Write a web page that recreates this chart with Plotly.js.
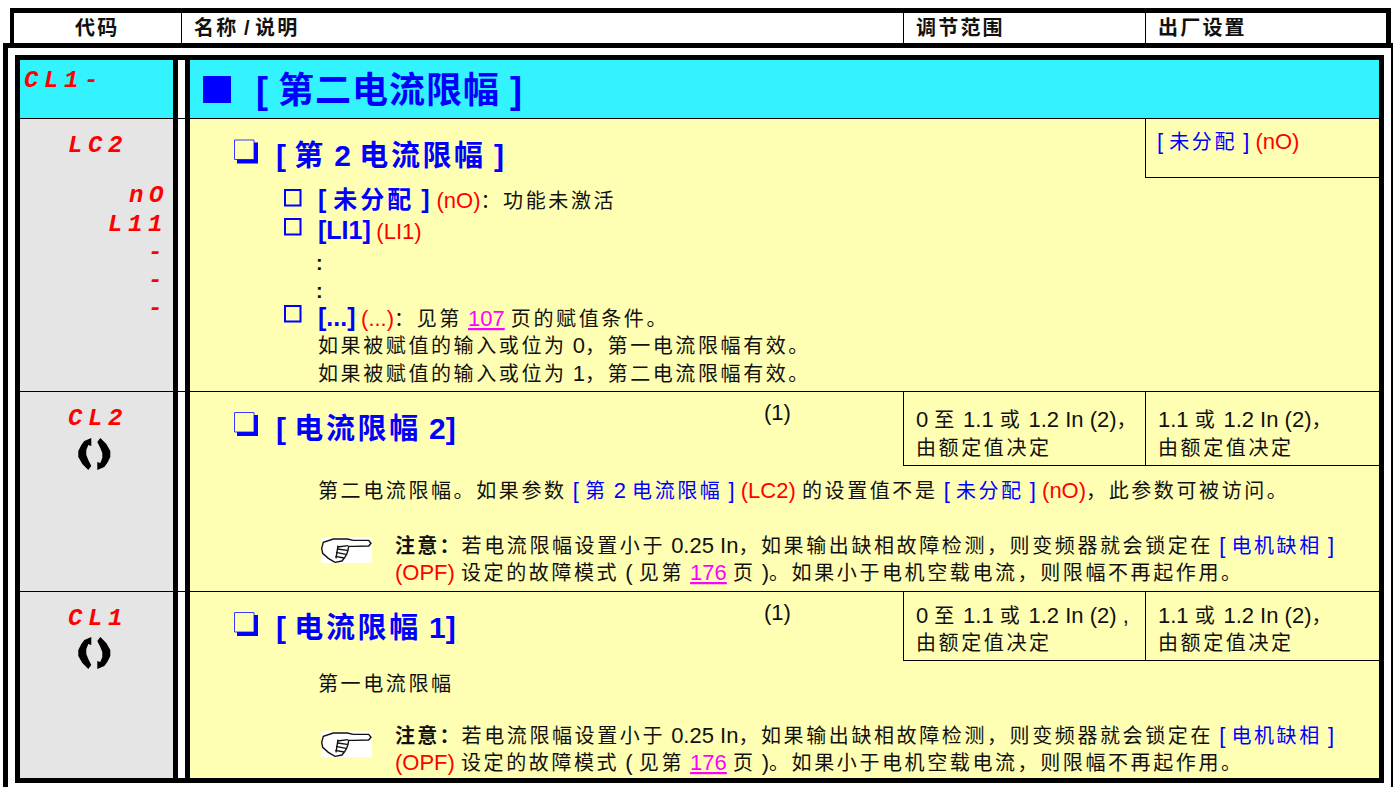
<!DOCTYPE html>
<html><head><meta charset="utf-8">
<script src="https://cdn.plot.ly/plotly-3.0.1.min.js"></script>
<style>html,body{margin:0;padding:0;background:#fff;overflow:hidden}#c{width:1393px;height:787px}</style>
</head><body><div id="c"></div>
<script>
const BLUE='#0000ff',RED='#ff0000',BLACK='#111111',MAG='#ff00ff';
const CYAN='#33f3ff',YEL='#ffffb3',GRAY='#e5e5e5';
const headerLabels=['代码','名称 / 说明','调节范围','出厂设置'];
const headerX=[75,194,916,1158];
const codeLabels=['CL1-','LC2','nO','L11','-','-','-','CL2','CL1'];
const codeX=[24,68,129,108,148,148,148,68,68];
const codeY=[80,145,195,224,252,280,308,418,618];
const rowLines=[118,391,591];
const handY=[0,194];
const arrowY=[454,653];

function s(t,c,z,b,ls,extra){
  return '<span style="fill:'+c+';font-size:'+z+'px;'+(b?'font-weight:bold;':'')+'letter-spacing:'+(ls||0)+'px;'+(extra||'')+'">'+t+'</span>';
}
// CJK runs get wider tracking, Latin runs use the Latin size with none
function mix(t,c,z,b,ls,lz){
  return t.split(/([\u3000-\u303f\u4e00-\u9fff\uff00-\uffef]+)/).filter(p=>p.length).map(p=>
    /^[\u3000-\u303f\u4e00-\u9fff\uff00-\uffef]/.test(p)?s(p,c,z,b,ls):s(p,c,lz,b,0)).join('');
}
const bk=(t)=>mix(t,BLACK,20,false,2.6,22);
const bl=(t)=>mix(t,BLUE,20,false,2.6,22);
const rd=(t)=>s(t,RED,22,false,0);
const lnk=(t)=>s(t,MAG,22,false,0,'text-decoration:underline;');
const bb=(t)=>mix(t,BLUE,24,true,3,25);
const big=(t)=>mix(t,BLUE,29,true,2.6,30);
const bh=(t)=>mix(t,BLACK,20,true,2.2,20);

const textLines=[
 [256,90, mix('[ 第二电流限幅 ]',BLUE,36,true,1,36)],
 [276,155,big('[ 第 2 电流限幅 ]')],
 [318,199,bb('[ 未分配 ] ')+rd('(nO)')+bk('：功能未激活')],
 [318,230,bb('[LI1]')+' '+rd('(LI1)')],
 [316,263,s(':',BLACK,20,true,0)],
 [316,291,s(':',BLACK,20,true,0)],
 [318,317,bb('[...]')+' '+rd('(...)')+bk('：见第 ')+lnk('107')+bk(' 页的赋值条件。')],
 [318,345,bk('如果被赋值的输入或位为 0，第一电流限幅有效。')],
 [318,373,bk('如果被赋值的输入或位为 1，第二电流限幅有效。')],
 [1157,141,bl('[ 未分配 ] ')+rd('(nO)')],
 [276,428,big('[ 电流限幅 2]')],
 [764,412,s('(1)',BLACK,22,false,0)],
 [916,419,bk('0 至 1.1 或 1.2 In (2)，')],
 [916,448,bk('由额定值决定')],
 [1158,419,bk('1.1 或 1.2 In (2)，')],
 [1158,448,bk('由额定值决定')],
 [318,490,bk('第二电流限幅。如果参数 ')+bl('[ 第 2 电流限幅 ] ')+rd('(LC2)')+bk(' 的设置值不是 ')+bl('[ 未分配 ] ')+rd('(nO)')+bk('，此参数可被访问。')],
 [395,545,bh('注意：')+bk('若电流限幅设置小于 0.25 In，如果输出缺相故障检测，则变频器就会锁定在 ')+bl('[ 电机缺相 ]')],
 [395,572,rd('(OPF)')+bk(' 设定的故障模式 ( 见第 ')+lnk('176')+bk(' 页 )。如果小于电机空载电流，则限幅不再起作用。')],
 [276,627,big('[ 电流限幅 1]')],
 [764,612,s('(1)',BLACK,22,false,0)],
 [916,615,bk('0 至 1.1 或 1.2 In (2) ,')],
 [916,643,bk('由额定值决定')],
 [1158,615,bk('1.1 或 1.2 In (2)，')],
 [1158,643,bk('由额定值决定')],
 [318,684,bk('第一电流限幅')],
 [395,735,bh('注意：')+bk('若电流限幅设置小于 0.25 In，如果输出缺相故障检测，则变频器就会锁定在 ')+bl('[ 电机缺相 ]')],
 [395,762,rd('(OPF)')+bk(' 设定的故障模式 ( 见第 ')+lnk('176')+bk(' 页 )。如果小于电机空载电流，则限幅不再起作用。')],
];

const shapes=[];
function rect(x0,y0,x1,y1,c){shapes.push({type:'rect',xref:'x',yref:'y',x0,y0,x1,y1,fillcolor:c,line:{width:0},layer:'above'});}
function path(p,fill,lc,lw){shapes.push({type:'path',xref:'x',yref:'y',path:p,fillcolor:fill,line:{color:lc||fill,width:lw||0},layer:'above'});}

// frames
rect(10,8,1391,48,'#000'); rect(14,13,1386,43,'#fff');
rect(3,43,1393,787,'#000'); rect(8,48,1391,787,'#fff');
rect(14,43,1386,48,'#000');
[181,903,1145].forEach(x=>rect(x,13,x+1,43,'#000'));
// table
rect(15,55,1384,783,'#000');
rect(20,60,173,118,CYAN); rect(178,60,185,778,'#fff'); rect(190,60,1379,118,CYAN);
rect(20,118,173,778,GRAY); rect(190,118,1379,778,YEL);
rowLines.forEach(y=>{rect(20,y,173,y+1,'#000');rect(178,y,185,y+1,'#000');rect(190,y,1379,y+1,'#000');});
// value cells
rect(1145,118,1146,178,'#000'); rect(1145,177,1379,178,'#000');
[[391,466],[591,661]].forEach(([a,b])=>{rect(903,a,904,b,'#000');rect(1145,a,1146,b,'#000');rect(903,b-1,1379,b,'#000');});
// bullets
rect(203,76,231,103,BLUE);
function shadowBox(x,y){
  shapes.push({type:'rect',xref:'x',yref:'y',x0:x+.5,y0:y+.5,x1:x+20,y1:y+20,fillcolor:'rgba(0,0,0,0)',line:{color:'#3a3aff',width:1},layer:'above'});
  path(`M${x+20},${y+3} H${x+24} V${y+24} H${x+3} V${y+20} H${x+20} Z`,BLUE);
}
[[234,139.5],[234,412],[234,612]].forEach(p=>shadowBox(p[0],p[1]));
function box(x,y){shapes.push({type:'rect',xref:'x',yref:'y',x0:x,y0:y,x1:x+15.5,y1:y+15.5,fillcolor:'rgba(0,0,0,0)',line:{color:BLUE,width:2},layer:'above'});}
[[285,190],[285,219],[285,306]].forEach(p=>box(p[0],p[1]));
// icons
function arrows(cy){
  const cx=94.3;
  const pts=[[-3,-16],[-3,-8],[-6,-9],[-8,-4],[-8,1],[-6,6],[-3,12],[-6,16],[-12,10],[-16,3],[-16,-3],[-13,-9],[-10,-13]];
  [1,-1].forEach(k=>path('M'+pts.map(p=>(cx+k*p[0])+','+(cy+k*p[1])).join(' L')+' Z','#000000'));
}
arrowY.forEach(arrows);
function hand(dy){
  const X=v=>310+v/3,Y=v=>525+dy+v/3;
  rect(321,537+dy,372,563+dy,'#fff');
  const pts=[[35,70],[40,52],[70,42],[112,42],[130,46],[176,46],[183,55],[176,63],[130,64],[116,64],[114,76],[110,88],[104,98],[96,108],[75,112],[55,100],[38,85]];
  path('M'+pts.map(p=>X(p[0])+','+Y(p[1])).join(' L')+' Z','#ffffff','#111111',1.4);
  [[[82,66],[114,62]],[[82,72],[112,76]],[[78,82],[108,88]],[[76,94],[102,99]],[[84,62],[78,100]]].forEach(l=>
    path(`M${X(l[0][0])},${Y(l[0][1])} L${X(l[1][0])},${Y(l[1][1])}`,'rgba(0,0,0,0)','#111111',1.4));
}
handY.forEach(hand);

const ann=[];
function T(x,y,t,extra){ann.push(Object.assign({xref:'x',yref:'y',x,y,text:t,showarrow:false,xanchor:'left',yanchor:'middle',align:'left',borderpad:0,borderwidth:0,font:{family:'"Liberation Sans","Noto Sans CJK SC",sans-serif',size:20,color:BLACK}},extra||{}));}
headerLabels.forEach((l,i)=>T(headerX[i],28,bh(l)));
codeLabels.forEach((l,i)=>T(codeX[i],codeY[i],'<i>'+s(l,RED,24,true,5.6)+'</i>',{font:{family:'"Liberation Mono",monospace',size:24,color:RED}}));
textLines.forEach(l=>T(l[0],l[1],l[2]));

Plotly.newPlot('c',[],{
  width:1393,height:787,margin:{l:0,r:0,t:0,b:0,pad:0},showlegend:false,
  paper_bgcolor:'#fff',plot_bgcolor:'#fff',
  xaxis:{range:[0,1393],visible:false,fixedrange:true},
  yaxis:{range:[787,0],visible:false,fixedrange:true},
  shapes,annotations:ann
},{displayModeBar:false,staticPlot:true});
</script></body></html>
